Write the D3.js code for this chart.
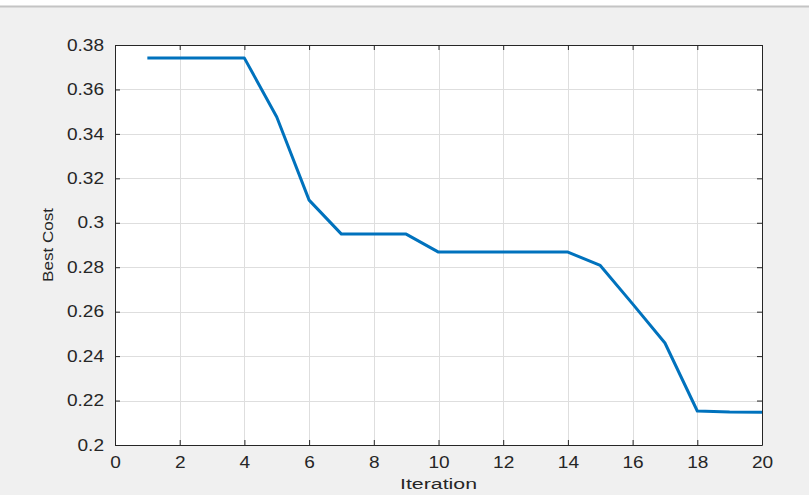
<!DOCTYPE html>
<html><head><meta charset="utf-8">
<script src="https://cdn.jsdelivr.net/npm/d3@7"></script>
<style>
html,body{margin:0;padding:0;background:#f0f0f0;}
svg{display:block;font-family:"Liberation Sans",Arial,sans-serif;}
</style></head>
<body><svg id="c" width="809" height="495"></svg>
<script>
const iterations = [1,2,3,4,5,6,7,8,9,10,11,12,13,14,15,16,17,18,19,20];
const bestCost = [0.3741,0.3741,0.3741,0.3741,0.3476,0.3102,0.2949,0.2949,0.2949,0.2868,0.2868,0.2868,0.2868,0.2868,0.2808,0.2635,0.2459,0.2153,0.2148,0.2147];
const xTicks = [0,2,4,6,8,10,12,14,16,18,20];
const yTicks = [0.2,0.22,0.24,0.26,0.28,0.3,0.32,0.34,0.36,0.38];

const svg = d3.select("#c");
const L=115,R=762,T=45,B=445;
svg.append("rect").attr("x",0).attr("y",0).attr("width",809).attr("height",6).attr("fill","#ffffff");
svg.append("line").attr("x1",0).attr("x2",809).attr("y1",6.5).attr("y2",6.5).attr("stroke","#c4c4c4").attr("stroke-width",2);

const x = d3.scaleLinear().domain([0,20]).range([L,R]);
const y = d3.scaleLinear().domain([0.2,0.38]).range([B,T]);

svg.append("rect").attr("x",L).attr("y",T).attr("width",R-L).attr("height",B-T).attr("fill","#fff");

const grid = svg.append("g").attr("stroke","#dedede").attr("stroke-width",1);
xTicks.forEach(t=>grid.append("line").attr("x1",Math.round(x(t))+0.5).attr("x2",Math.round(x(t))+0.5).attr("y1",T).attr("y2",B));
yTicks.forEach(t=>grid.append("line").attr("y1",Math.round(y(t))+0.5).attr("y2",Math.round(y(t))+0.5).attr("x1",L).attr("x2",R));

const fmt = d=>String(+d.toFixed(2));
const ax = svg.append("g").attr("transform",`translate(0,${B})`)
  .call(d3.axisBottom(x).tickValues(xTicks).tickFormat(fmt).tickSizeInner(-5).tickSizeOuter(0).tickPadding(12));
const ay = svg.append("g").attr("transform",`translate(${L},0)`)
  .call(d3.axisLeft(y).tickValues(yTicks).tickFormat(fmt).tickSizeInner(-5).tickSizeOuter(0).tickPadding(11));
const axT = svg.append("g").attr("transform",`translate(0,${T})`)
  .call(d3.axisTop(x).tickValues(xTicks).tickFormat("").tickSizeInner(-5).tickSizeOuter(0));
const ayR = svg.append("g").attr("transform",`translate(${R},0)`)
  .call(d3.axisRight(y).tickValues(yTicks).tickFormat("").tickSizeInner(-5).tickSizeOuter(0));
[ax,ay,axT,ayR].forEach(g=>{
  g.selectAll("path").attr("stroke","#262626").attr("stroke-width",1);
  g.selectAll("line").attr("stroke","#262626");
  g.selectAll("text").attr("fill","#262626").attr("font-size",16).attr("font-family","Liberation Sans,Arial,sans-serif");
});
[ax,ay].forEach(g=>g.selectAll("text").each(function(){
  const w=this.getComputedTextLength();
  d3.select(this).attr("textLength",w*1.19).attr("lengthAdjust","spacingAndGlyphs");
}));

svg.append("path").datum(iterations.map((d,i)=>[d,bestCost[i]]))
  .attr("fill","none").attr("stroke","#0072BD").attr("stroke-width",3).attr("stroke-linejoin","round")
  .attr("d",d3.line().x(d=>x(d[0])).y(d=>y(d[1])));

svg.append("text").attr("x",438.5).attr("y",489).attr("text-anchor","middle")
  .attr("font-size",15.5).attr("fill","#262626").attr("textLength",77).attr("lengthAdjust","spacingAndGlyphs").text("Iteration");
svg.append("text").attr("transform",`translate(53,245) rotate(-90)`).attr("text-anchor","middle")
  .attr("font-size",15.5).attr("fill","#262626").attr("textLength",74).attr("lengthAdjust","spacingAndGlyphs").text("Best Cost");
</script></body></html>
